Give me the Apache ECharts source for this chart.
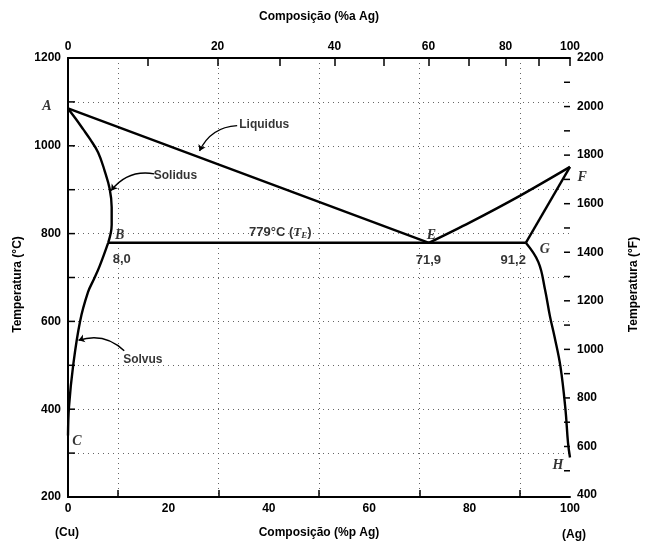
<!DOCTYPE html>
<html><head><meta charset="utf-8">
<script src="https://cdn.jsdelivr.net/npm/echarts@6/dist/echarts.min.js"></script>
<style>html,body{margin:0;padding:0;background:#fff}#c{width:648px;height:549px}</style>
</head><body><div id="c"></div>
<script>
// ---- data (weight % Ag, temperature °C) ----
const liquidusLeft  = [[0,1085],[71.9,779]];
const liquidusRight = [[71.9,779],[80,825],[90,886],[100,952]];
const solidusLeft   = [[0,1085],[1.5,1062],[3,1038],[4.4,1015],[6,985],[7.3,943],[8.3,902],[8.7,860],[8.7,820],[8.0,779]];
const solvusLeft    = [[8.0,779],[6.3,726],[5.2,697],[4.0,667],[2.4,600],[1.0,497],[0.2,406],[0,340]];
const eutectic      = [[8.0,779],[91.2,779]];
const solidusRight  = [[91.2,779],[100,952]];
const solvusRight   = [[91.2,779],[93.7,735],[95.0,674],[96.0,612],[96.9,566],[98.1,497],[99.1,399],[99.6,324],[100,290]];

const bottomTicks   = [0,20,40,60,80,100];          // wt % Ag
const topAtLabels   = [0,20,40,60,80,100];          // at % Ag
const topAtTicks    = [0,10,20,30,40,50,60,70,80,90,100];
const cTicks        = [300,400,500,600,700,800,900,1000,1100];
const fLabels       = [400,600,800,1000,1200,1400,1600,1800,2000,2200];
const fTicks        = [500,600,700,800,900,1000,1100,1200,1300,1400,1500,1600,1700,1800,1900,2000,2100];

// point letters / numbers: [wt%, °C, text, kind]
const annotations = [
  [-4.2,1090,'A','pt'],[10.3,795,'B','pt'],[1.8,326,'C','pt'],[72.4,797,'E','pt'],
  [102.4,928,'F','pt'],[95.0,765,'G','pt'],[97.6,271,'H','pt'],
  [10.7,742,'8,0','num'],[71.8,738,'71,9','num'],[88.7,738,'91,2','num'],
  [42.3,802,'te','num'],
  [39.1,1049,'Liquidus','name'],[21.4,932,'Solidus','name'],[14.9,513,'Solvus','name']
];
// leader arrows: from label to curve
const leaders = [
  [[33.7,1046],[26.2,988]],
  [[17.2,936],[8.6,898]],
  [[11.2,533],[2.1,557]]
];

const M_CU = 63.546, M_AG = 107.87;
const wtFromAt = a => a*M_AG/(a*M_AG+(100-a)*M_CU)*100;
const cToF = c => c*1.8+32;

const font = '"Liberation Sans Narrow", "Liberation Sans", sans-serif';
const txt = {fontFamily:font, fontSize:12, fontWeight:'bold', color:'#000'};
const lineBase = {type:'line', symbol:'none', lineStyle:{color:'#000', width:2.4}, itemStyle:{color:'#000'}, silent:true, z:5};

// short inward tick marks drawn through the axis scales
function tickSeries(values, yAxisIndex, xVal, dir, len){
  return {type:'custom', yAxisIndex, silent:true, clip:false, z:8,
    data:values.map(v=>[xVal, v]),
    renderItem:(params, api)=>{
      const p = api.coord([api.value(0), api.value(1)]);
      return {type:'line', shape:{x1:p[0], y1:p[1], x2:p[0]+dir*len, y2:p[1]},
              style:{stroke:'#000', lineWidth:1.5}};
    }};
}

const chart = echarts.init(document.getElementById('c'), null, {renderer:'canvas'});
chart.setOption({
  animation:false,
  backgroundColor:'#fff',
  grid:{left:68, right:76, top:58, bottom:52},
  xAxis:[
    {type:'value', min:0, max:100, interval:10, position:'bottom',
     name:'Composição (%p Ag)', nameLocation:'middle', nameGap:30, nameMoveOverlap:false, nameTextStyle:txt,
     axisLine:{show:true, lineStyle:{color:'#000', width:2}},
     axisTick:{show:true, inside:true, length:7, lineStyle:{color:'#000', width:1.5}, customValues:[10,30,50,70,90]},
     axisLabel:Object.assign({margin:6, customValues:bottomTicks}, txt),
     splitLine:{show:true, lineStyle:{color:'#666', width:1, type:[1,4]}}},
    {type:'value', min:0, max:100, position:'top',
     name:'Composição (%a Ag)', nameLocation:'middle', nameGap:35, nameTextStyle:txt,
     axisLine:{show:true, lineStyle:{color:'#000', width:2}},
     axisTick:{show:true, inside:true, length:8, lineStyle:{color:'#000', width:1.5}, customValues:topAtTicks.map(wtFromAt)},
     axisLabel:Object.assign({margin:5,
       customValues:topAtLabels.map(wtFromAt),
       formatter:v=>{let best=topAtLabels[0];for(const a of topAtLabels){if(Math.abs(wtFromAt(a)-v)<Math.abs(wtFromAt(best)-v))best=a;}return String(best);}}, txt),
     splitLine:{show:false}}
  ],
  yAxis:[
    {type:'value', min:200, max:1200, interval:100, position:'left',
     name:'Temperatura (°C)', nameLocation:'middle', nameGap:44, nameMoveOverlap:false, nameRotate:90,
     nameTextStyle:Object.assign({padding:[0,14,0,0]}, txt),
     axisLine:{show:true, lineStyle:{color:'#000', width:2}},
     axisTick:{show:false},
     axisLabel:Object.assign({margin:7, formatter:v=>(v%200===0?String(v):'')}, txt),
     splitLine:{show:true, lineStyle:{color:'#666', width:1, type:[1,4]}}},
    {type:'value', min:cToF(200), max:2200, position:'right',
     name:'Temperatura (°F)', nameLocation:'middle', nameGap:58, nameMoveOverlap:false, nameRotate:90,
     nameTextStyle:Object.assign({padding:[0,14,0,0]}, txt),
     axisLine:{show:true, lineStyle:{color:'#000', width:2}},
     axisTick:{show:false},
     axisLabel:Object.assign({margin:7, customValues:fLabels, formatter:v=>String(v), padding:[0,0,7,0]}, txt),
     splitLine:{show:false}}
  ],
  graphic:[
    {type:'text', left:55, top:527, style:{text:'(Cu)', font:'bold 12px "Liberation Sans Narrow", "Liberation Sans"', fill:'#000'}},
    {type:'text', left:562, top:529, style:{text:'(Ag)', font:'bold 12px "Liberation Sans Narrow", "Liberation Sans"', fill:'#000'}}
  ],
  series:[
    Object.assign({name:'liqL', data:liquidusLeft}, lineBase),
    Object.assign({name:'liqR', data:liquidusRight, smooth:0.3}, lineBase),
    Object.assign({name:'solL', data:solidusLeft, smooth:0.4}, lineBase),
    Object.assign({name:'svL', data:solvusLeft, smooth:0.4}, lineBase),
    Object.assign({name:'eut', data:eutectic}, lineBase),
    Object.assign({name:'solR', data:solidusRight}, lineBase),
    Object.assign({name:'svR', data:solvusRight, smooth:0.4}, lineBase),
    tickSeries(cTicks, 0, 0, 1, 7),
    tickSeries(fTicks, 1, 100, -1, 6),
    {type:'lines', coordinateSystem:'cartesian2d', silent:true, z:6,
     symbol:['none','arrow'], symbolSize:6,
     lineStyle:{color:'#000', width:1.4, opacity:1, curveness:-0.3},
     data:leaders.map(c=>({coords:c}))},
    {type:'scatter', clip:false, silent:true, symbolSize:1, itemStyle:{color:'rgba(0,0,0,0)'}, z:7,
     data:annotations.map(a=>({value:[a[0],a[1]], kind:a[3], txt:a[2]})),
     label:{show:true, position:'inside', color:'#000',
       formatter:p=>{const d=p.data; if(d.txt==='te') return '{num|779°C (}{it|T}{sub|E}{num|)}';
         if(d.kind==='pt') return '{pt|'+d.txt+'}'; if(d.kind==='num') return '{num|'+d.txt+'}'; return '{nm|'+d.txt+'}';},
       fontFamily:font, fontSize:12,
       rich:{
         pt:{fontFamily:'Liberation Serif', fontStyle:'italic', fontWeight:'bold', fontSize:14, color:'#000'},
         num:{fontFamily:font, fontWeight:'bold', fontSize:13, color:'#000'},
         nm:{fontFamily:font, fontWeight:'bold', fontSize:12, color:'#000'},
         it:{fontFamily:'Liberation Serif', fontStyle:'italic', fontWeight:'bold', fontSize:13, color:'#000'},
         sub:{fontFamily:'Liberation Serif', fontStyle:'italic', fontWeight:'bold', fontSize:9, color:'#000', verticalAlign:'bottom', padding:[6,0,0,0]}
       }}}
  ]
});
</script></body></html>
